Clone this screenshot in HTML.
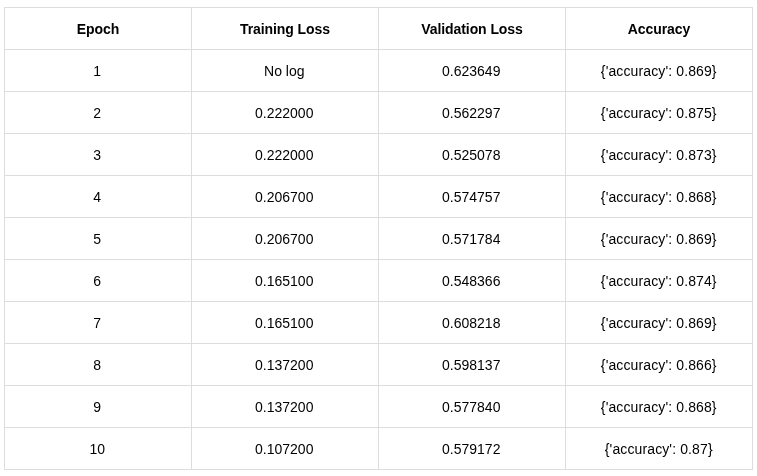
<!DOCTYPE html>
<html><head><meta charset="utf-8">
<style>
html,body{margin:0;padding:0;background:#fff;}
body{width:757px;height:476px;overflow:hidden;position:relative;font-family:"Liberation Sans",Arial,sans-serif;color:#000;}
table{position:absolute;left:4px;top:7px;border-collapse:collapse;table-layout:fixed;}
td,th{border:1px solid #ddd;width:186px;height:41px;padding:0;text-align:center;font-size:14px;}
th{font-weight:bold;letter-spacing:-0.08px;}
td{padding-right:1.5px;width:184.5px;}
td:nth-child(4){letter-spacing:0.12px;padding-right:0.5px;width:185.5px;}
</style></head><body>
<table>
<tr><th>Epoch</th><th>Training Loss</th><th>Validation Loss</th><th>Accuracy</th></tr>
<tr><td>1</td><td>No log</td><td>0.623649</td><td>{'accuracy': 0.869}</td></tr>
<tr><td>2</td><td>0.222000</td><td>0.562297</td><td>{'accuracy': 0.875}</td></tr>
<tr><td>3</td><td>0.222000</td><td>0.525078</td><td>{'accuracy': 0.873}</td></tr>
<tr><td>4</td><td>0.206700</td><td>0.574757</td><td>{'accuracy': 0.868}</td></tr>
<tr><td>5</td><td>0.206700</td><td>0.571784</td><td>{'accuracy': 0.869}</td></tr>
<tr><td>6</td><td>0.165100</td><td>0.548366</td><td>{'accuracy': 0.874}</td></tr>
<tr><td>7</td><td>0.165100</td><td>0.608218</td><td>{'accuracy': 0.869}</td></tr>
<tr><td>8</td><td>0.137200</td><td>0.598137</td><td>{'accuracy': 0.866}</td></tr>
<tr><td>9</td><td>0.137200</td><td>0.577840</td><td>{'accuracy': 0.868}</td></tr>
<tr><td>10</td><td>0.107200</td><td>0.579172</td><td>{'accuracy': 0.87}</td></tr>
</table>
</body></html>
